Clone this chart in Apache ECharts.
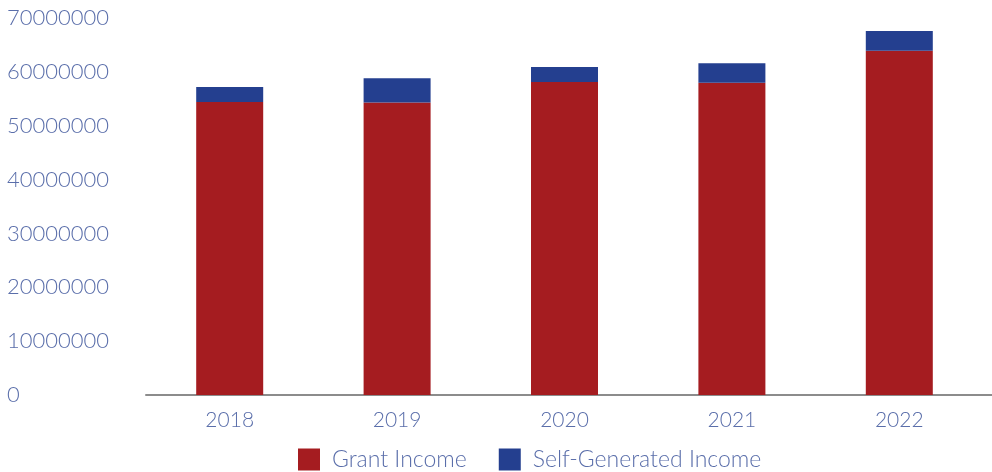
<!DOCTYPE html>
<html>
<head>
<meta charset="utf-8">
<script src="https://cdn.jsdelivr.net/npm/echarts@6/dist/echarts.min.js"></script>
<style>
  html, body { margin: 0; padding: 0; background: #ffffff; }
  #chart { width: 992px; height: 472px; }
</style>
</head>
<body>
<div id="chart"></div>
<script>
// Income by year (stacked): grant funding plus self-generated revenue
const years = ['2018', '2019', '2020', '2021', '2022'];
const grantIncome = [54400000, 54300000, 58100000, 58000000, 63900000];
const selfGeneratedIncome = [2800000, 4500000, 2800000, 3600000, 3700000];
const seriesNames = ['Grant Income', 'Self-Generated Income'];

const textColor = '#5a6eaa';
const fontFamily = 'Lato, "Open Sans", sans-serif';

const chart = echarts.init(document.getElementById('chart'));
chart.setOption({
  animation: false,
  backgroundColor: '#ffffff',
  grid: { left: 146, right: 9, top: 18, bottom: 77, containLabel: false },
  legend: {
    data: seriesNames,
    top: 448,
    left: 298,
    padding: 0,
    itemWidth: 22,
    itemHeight: 22,
    itemGap: 32,
    icon: 'rect',
    textStyle: { color: textColor, fontSize: 23, fontFamily: fontFamily, fontWeight: 300, padding: [0, 0, 0, 7] }
  },
  xAxis: {
    type: 'category',
    data: years,
    axisLine: { lineStyle: { color: '#8c8c8c', width: 2 } },
    axisTick: { show: false },
    axisLabel: { color: textColor, fontSize: 21, fontFamily: fontFamily, fontWeight: 300, margin: 15 }
  },
  yAxis: {
    type: 'value',
    min: 0,
    max: 70000000,
    interval: 10000000,
    axisLine: { show: false },
    axisTick: { show: false },
    splitLine: { show: false },
    axisLabel: {
      color: textColor, fontSize: 22, fontFamily: fontFamily, fontWeight: 300,
      align: 'left', margin: 139,
      formatter: function (v) { return String(v); }
    }
  },
  series: [
    {
      name: seriesNames[0],
      type: 'bar',
      stack: 'income',
      barWidth: 67,
      itemStyle: { color: '#a51c20' },
      data: grantIncome
    },
    {
      name: seriesNames[1],
      type: 'bar',
      stack: 'income',
      barWidth: 67,
      itemStyle: { color: '#243f8f' },
      data: selfGeneratedIncome
    }
  ],
  graphic: [
    {
      type: 'line',
      shape: { x1: 983, y1: 395, x2: 992, y2: 395 },
      style: { stroke: '#8c8c8c', lineWidth: 2 }
    }
  ]
});
</script>
</body>
</html>
